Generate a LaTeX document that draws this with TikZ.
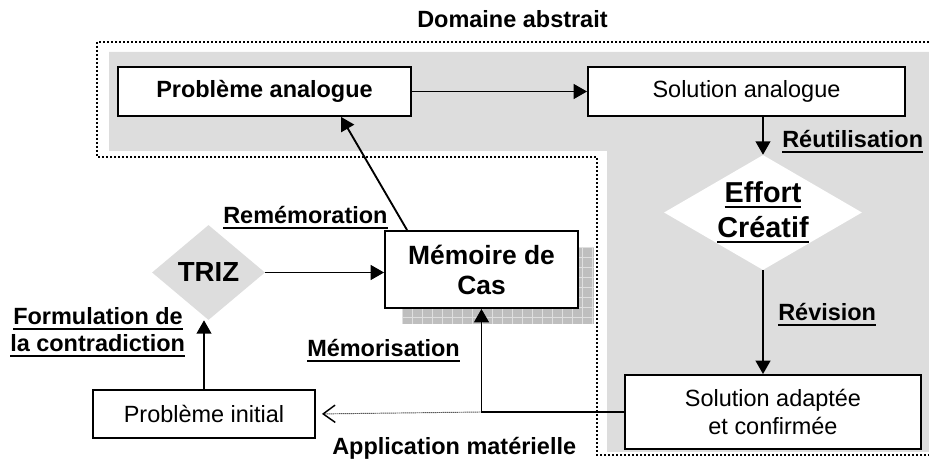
\documentclass[tikz,border=0pt]{standalone}
\usepackage{fontspec}
\setmainfont{Liberation Sans}
\usetikzlibrary{arrows.meta,positioning,calc,shapes.geometric}
\definecolor{fondgris}{RGB}{221,221,221}
\definecolor{ombregris}{RGB}{190,190,190}
\newcommand{\souligne}[1]{\setbox0\hbox{#1}\rlap{\rule[-0.2em]{\wd0}{0.085em}}\box0}

\begin{document}
\begin{tikzpicture}[
  x=0.75pt,y=-0.75pt,
  box/.style={draw,line width=1.4pt,fill=white,align=center,inner sep=0pt,font=\fontsize{17.6}{21}\selectfont},
  boxgras/.style={box,font=\bfseries\fontsize{17.6}{21}\selectfont},
  losange/.style={diamond,inner sep=0pt,align=center},
  lbl/.style={anchor=base west,inner sep=0pt,font=\bfseries\fontsize{17.6}{21}\selectfont},
  arr/.style={-{Triangle[length=10pt,width=11pt]},line width=1.4pt},
  arrpoint/.style={-{Straight Barb[length=9pt,width=13pt,line width=1.1pt]},line width=0.7pt,dash pattern=on 0.7pt off 0.8pt,shorten >=4.5pt},
  pointille/.style={line width=1.5pt,dash pattern=on 1.5pt off 1.5pt}
]
\useasboundingbox (0,0) rectangle (929,459);

% zone grise et cadre du domaine abstrait
\fill[fondgris] (929,52) -- (109,52) -- (109,151) -- (607,151) -- (607,452) -- (929,452) -- cycle;
\draw[pointille] (929,42) -- (97,42) -- (97,157) -- (597,157) -- (597,455) -- (929,455);

% ombre quadrillee
\fill[ombregris] (402,247) rectangle (594,324);
\foreach \gx in {402,412,...,594} \draw[gray!25,line width=0.4pt] (\gx,247) -- (\gx,324);
\foreach \gy in {247,257,...,324} \draw[gray!25,line width=0.4pt] (402,\gy) -- (594,\gy);

\node[boxgras,minimum width=219.75pt,minimum height=36.75pt] (pa) at (264.5,91.5) {Problème analogue};
\node[box,minimum width=237.75pt,minimum height=36.75pt] (sa) at (746.5,91.5) {Solution analogue};
\node[losange,fill=white,aspect=1.72,minimum width=148.5pt,minimum height=86.25pt,
  font=\bfseries\fontsize{21.6}{26}\selectfont] (ec) at (763,212.5) {\souligne{Effort}\\\souligne{Créatif}};
\node[box,minimum width=222pt,minimum height=55.5pt] (sad) at (773,412) {Solution adaptée\\et confirmée};
\node[box,font=\bfseries\fontsize{19.8}{22.5}\selectfont,minimum width=144.75pt,minimum height=57.75pt] (mc) at (481.5,269.5) {Mémoire de\\Cas};
\node[losange,fill=fondgris,aspect=1.19,minimum width=84.75pt,minimum height=71.25pt,
  font=\bfseries\fontsize{20.7}{25}\selectfont] (triz) at (208.5,272.5) {TRIZ};
\node[box,minimum width=166.5pt,minimum height=36pt] (pi) at (204,414) {Problème initial};

% etiquettes
\node[lbl] (dom) at (417,28) {Domaine abstrait};
\node[lbl] (reut) at (782,148) {\souligne{Réutilisation}};
\node[lbl] (rev) at (778,321) {\souligne{Révision}};
\node[lbl] (remem) at (223,224) {\souligne{Remémoration}};
\node[lbl] (form1) at (13,325) {\souligne{Formulation de}};
\node[lbl] (form2) at (10,352) {\souligne{la contradiction}};
\node[lbl] (memo) at (307,357) {\souligne{Mémorisation}};
\node[lbl] (appl) at (332,455) {Application matérielle};

\draw[arr] (pa) -- (sa);
\draw[arr] (ec.north |- sa.south) -- (ec.north);
\draw[arr] (ec.south) -- (ec.south |- sad.north);
\draw[arr] ([xshift=17.25pt]mc.north west) -- ([xshift=168pt]pa.south west);
\draw[arr] (triz.east) -- (triz.east -| mc.west);
\draw[arr] (pi.north) -- (pi.north |- triz.south);
\draw[arr] (sad.west) -| (mc.south);
\coordinate (jonction) at (mc.south |- sad.west);
\draw[arrpoint] (jonction) -- (pi.east);
\end{tikzpicture}
\end{document}
